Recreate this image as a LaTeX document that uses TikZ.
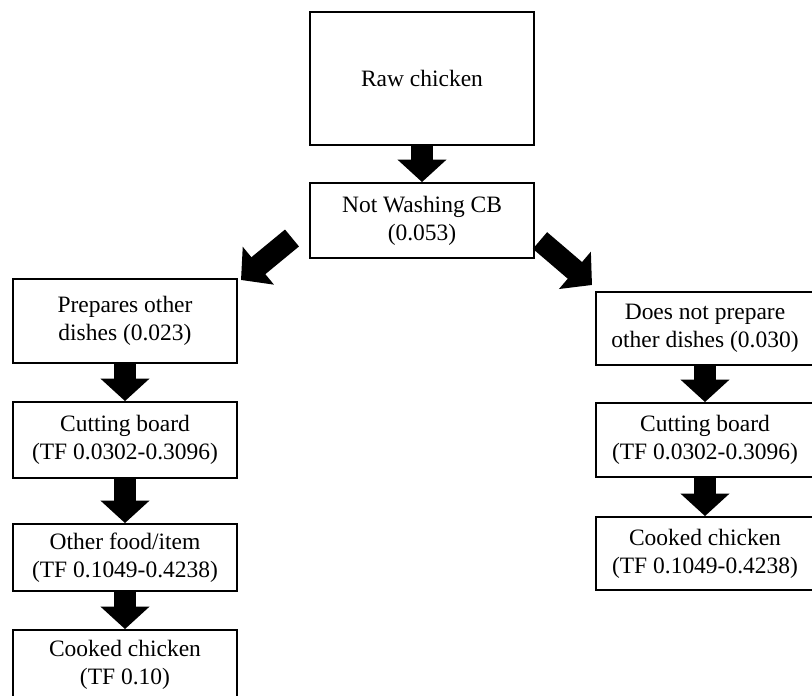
\documentclass[tikz,border=0pt]{standalone}
\usepackage{fontspec}
\setmainfont{Liberation Serif}
\usepackage{tikz}
\usetikzlibrary{arrows.meta}

\begin{document}
\begin{tikzpicture}[x=0.025cm,y=-0.025cm]
  \tikzstyle{box}=[draw,line width=1.3pt,align=center,inner sep=0pt,
    font=\fontsize{16.7pt}{19.9pt}\selectfont]
  \tikzstyle{fat}=[line width=15.6pt,-{Triangle[length=16pt,width=34pt]}]
  \useasboundingbox (0,0) rectangle (812,696);
  % top of the tree
  \node[box,minimum width=5.6cm,minimum height=3.325cm] (raw) at (422,78.5) {Raw chicken};
  \node[box,minimum width=5.6cm,minimum height=1.875cm] (nw) at (422,220.5) {Not Washing CB\\(0.053)};
  % left branch
  \node[box,minimum width=5.6cm,minimum height=2.1cm] (prep) at (125,321) {Prepares other\\dishes (0.023)};
  \node[box,minimum width=5.6cm,minimum height=1.9cm] (cut1) at (125,440) {Cutting board\\(TF 0.0302-0.3096)};
  \node[box,minimum width=5.6cm,minimum height=1.675cm] (oth) at (125,557.5) {Other food/item\\(TF 0.1049-0.4238)};
  \node[box,minimum width=5.6cm,minimum height=1.75cm] (ck1) at (125,665) {Cooked chicken\\(TF 0.10)};
  % right branch
  \node[box,minimum width=5.45cm,minimum height=1.825cm] (dnp) at (705,328.5) {Does not prepare\\other dishes (0.030)};
  \node[box,minimum width=5.45cm,minimum height=1.85cm] (cut2) at (705,440) {Cutting board\\(TF 0.0302-0.3096)};
  \node[box,minimum width=5.45cm,minimum height=1.825cm] (ck2) at (705,553.5) {Cooked chicken\\(TF 0.1049-0.4238)};
  \foreach \a/\b in {raw/nw,prep/cut1,cut1/oth,oth/ck1,dnp/cut2,cut2/ck2} {
    \draw[fat] (\a.south) -- (\b.north);
  }
  % the two slanted arrows
  \coordinate (lt) at (292,238);
  \coordinate (lh) at (241,280);
  \coordinate (rt) at (540,240.5);
  \coordinate (rh) at (592,285);
  \draw[fat] (lt) -- (lh);
  \draw[fat] (rt) -- (rh);
\end{tikzpicture}
\end{document}
